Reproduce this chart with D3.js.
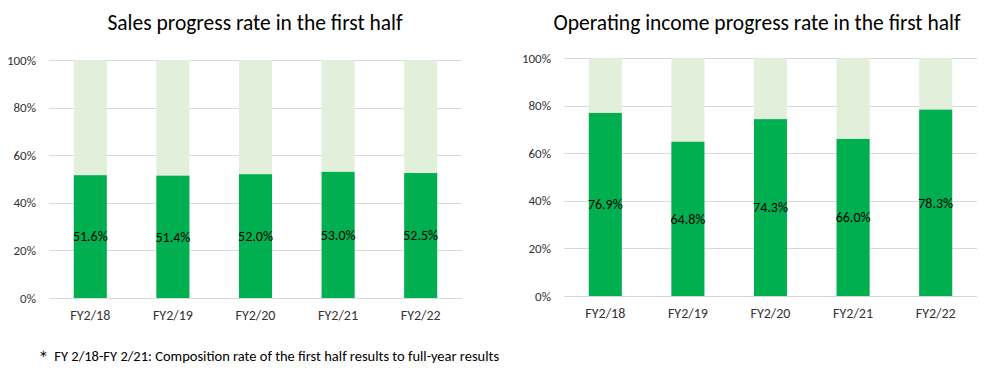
<!DOCTYPE html>
<html><head><meta charset="utf-8">
<script src="https://cdn.jsdelivr.net/npm/d3@7"></script>
<style>body{margin:0;background:#fff;}svg{display:block;font-family:Carlito,Calibri,Lato,"Open Sans",sans-serif;}</style>
</head><body><svg id="c" width="997" height="379"></svg>
<script>
const categories = ["FY2/18","FY2/19","FY2/20","FY2/21","FY2/22"];
const salesRate = [51.6, 51.4, 52.0, 53.0, 52.5];
const opIncomeRate = [76.9, 64.8, 74.3, 66.0, 78.3];
const yTicks = [0, 20, 40, 60, 80, 100];
const titles = ["Sales progress rate in the first half", "Operating income progress rate in the first half"];
const footnote = "＊ FY 2/18-FY 2/21: Composition rate of the first half results to full-year results";

const svg = d3.select("#c");
const panels = [
  {values: salesRate, x0: 49, x1: 462, yTop: 60, yBot: 298, title: titles[0], tx: 255, ty: 30, tickX: 36, labelY: 315},
  {values: opIncomeRate, x0: 564, x1: 977, yTop: 58, yBot: 296, title: titles[1], tx: 757, ty: 30, tickX: 551, labelY: 313}
];
panels.forEach(p => {
  const g = svg.append("g");
  const x = d3.scaleBand().domain(categories).range([p.x0, p.x1]).paddingInner(0.6).paddingOuter(0.3);
  const y = d3.scaleLinear().domain([0, 100]).range([p.yBot, p.yTop]);
  g.selectAll("line.grid").data(yTicks).join("line")
    .attr("x1", p.x0).attr("x2", p.x1)
    .attr("y1", d => Math.round(y(d)) + 0.5).attr("y2", d => Math.round(y(d)) + 0.5)
    .attr("stroke", "#d9d9d9").attr("stroke-width", 1);
  g.selectAll("text.tick").data(yTicks).join("text")
    .attr("x", p.tickX).attr("y", d => y(d)).attr("dy", "0.35em")
    .attr("text-anchor", "end").attr("font-size", 13).attr("fill", "#333")
    .text(d => d + "%");
  g.selectAll("rect.bg").data(p.values).join("rect")
    .attr("x", (d, i) => x(categories[i])).attr("width", x.bandwidth())
    .attr("y", y(100)).attr("height", y(0) - y(100)).attr("fill", "#e2efda");
  g.selectAll("rect.val").data(p.values).join("rect")
    .attr("x", (d, i) => x(categories[i])).attr("width", x.bandwidth())
    .attr("y", d => y(d)).attr("height", d => y(0) - y(d)).attr("fill", "#00af50");
  g.selectAll("text.lbl").data(p.values).join("text")
    .attr("x", (d, i) => x(categories[i]) + x.bandwidth() / 2).attr("y", d => y(d / 2)).attr("dy", "0.35em")
    .attr("text-anchor", "middle").attr("font-size", 14).attr("fill", "#000")
    .text(d => d.toFixed(1) + "%");
  g.selectAll("text.cat").data(categories).join("text")
    .attr("x", d => x(d) + x.bandwidth() / 2).attr("y", p.labelY).attr("dy", "0.35em")
    .attr("text-anchor", "middle").attr("font-size", 14).attr("fill", "#333")
    .text(d => d);
  g.append("text").attr("x", p.tx).attr("y", p.ty).attr("text-anchor", "middle")
    .attr("font-size", 21.5).attr("fill", "#000").text(p.title);
});
svg.append("text").attr("x", 36).attr("y", 361).attr("font-size", 14.5).attr("fill", "#000").text(footnote);
</script></body></html>
